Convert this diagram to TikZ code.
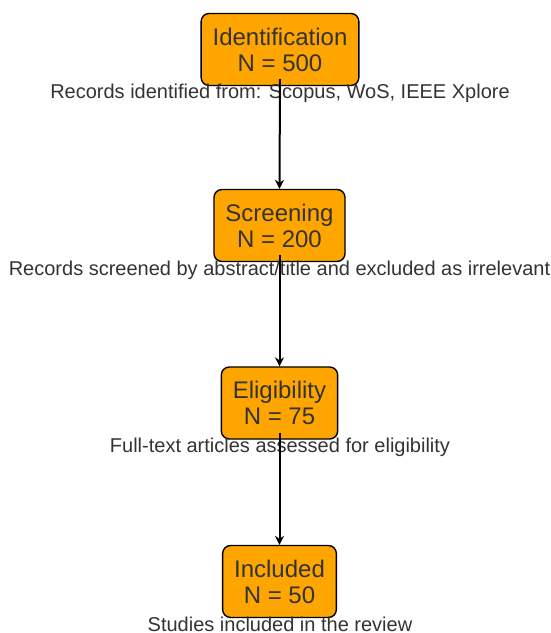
\documentclass[tikz,border=0pt]{standalone}
\usepackage{fontspec}
\setmainfont{Liberation Sans}
\usetikzlibrary{arrows.meta}
\definecolor{stagefill}{HTML}{FFA500}
\definecolor{txt}{HTML}{333333}
\tikzset{
  stage/.style={draw=black, line width=1.4pt, fill=stagefill, rounded corners=8pt,
    text=txt, align=center, inner xsep=11.5pt, minimum height=72pt,
    font=\fontsize{24}{26}\selectfont},
  note/.style={text=txt, inner sep=0pt, font=\fontsize{20}{22}\selectfont},
  flow/.style={draw=black, line width=2pt,
    -{Stealth[length=9pt,width=9pt,inset=3pt]}},
}
\begin{document}
\begin{tikzpicture}[x=1pt,y=1pt]
\useasboundingbox (0,0) rectangle (551,-633);
% stages
\node[stage] (id)  at (280,-49.5)   {Identification\\N = 500};
\node[stage] (sc)  at (279.5,-225.5) {Screening\\N = 200};
\node[stage] (el)  at (279.5,-403)   {Eligibility\\N = 75};
\node[stage] (inc) at (279.5,-581.5) {Included\\N = 50};
% descriptions under each stage
\node[note] (idn)  at (280,-93)  {Records identified from: Scopus, WoS, IEEE Xplore};
\node[note] (scn)  at (279.5,-270) {Records screened by abstract/title and excluded as irrelevant};
\node[note] (eln)  at (280,-447) {Full-text articles assessed for eligibility};
\node[note] (incn) at (280,-624) {Studies included in the review};
% flow between stages
\draw[flow] ([yshift=7pt]id.south) -- (sc.north);
\draw[flow] ([yshift=7pt]sc.south) -- (el.north);
\draw[flow] ([yshift=7pt]el.south) -- (inc.north);
\end{tikzpicture}
\end{document}
